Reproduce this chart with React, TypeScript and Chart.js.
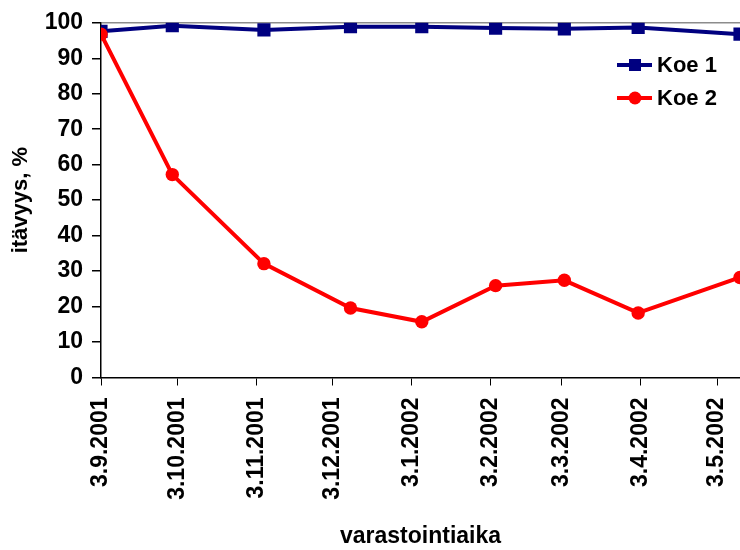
import React, { useEffect, useRef } from "react";
import { Chart, registerables } from "chart.js";

Chart.register(...registerables);

// Days since 3.9.2001
const tickDays = [0, 30, 61, 91, 122, 153, 181, 212, 242];
const tickLabels = [
  "3.9.2001",
  "3.10.2001",
  "3.11.2001",
  "3.12.2001",
  "3.1.2002",
  "3.2.2002",
  "3.3.2002",
  "3.4.2002",
  "3.5.2002",
];
const sampleDays = [0, 28, 64, 98, 126, 155, 182, 211, 251];
const koe1 = [97.6, 99.2, 98.0, 98.9, 98.9, 98.5, 98.3, 98.7, 96.8];
const koe2 = [96.8, 57.2, 32.1, 19.6, 15.7, 25.9, 27.4, 18.2, 28.2];
const seriesNames = ["Koe 1", "Koe 2"];
const xTitle = "varastointiaika";
const yTitle = "itävyys, %";

const FONT = "'Liberation Sans', Arial, Helvetica, sans-serif";

const legendPlugin = {
  id: "insideLegend",
  afterDraw(chart: any) {
    const ctx = chart.ctx;
    const ys = [65, 98];
    ctx.save();
    chart.data.datasets.forEach((ds: any, i: number) => {
      const y = ys[i];
      ctx.strokeStyle = ds.borderColor;
      ctx.lineWidth = 4;
      ctx.beginPath();
      ctx.moveTo(617, y);
      ctx.lineTo(652, y);
      ctx.stroke();
      ctx.fillStyle = ds.pointBackgroundColor;
      if (ds.pointStyle === "rect") {
        ctx.fillRect(629, y - 6, 12, 12);
      } else {
        ctx.beginPath();
        ctx.arc(635, y, 6.5, 0, Math.PI * 2);
        ctx.fill();
      }
      ctx.fillStyle = "#000";
      ctx.font = `bold 22px ${FONT}`;
      ctx.textBaseline = "middle";
      ctx.textAlign = "left";
      ctx.fillText(ds.label, 657, y + 1);
    });
    ctx.restore();
  },
};

export default function App() {
  const ref = useRef<HTMLCanvasElement>(null);
  useEffect(() => {
    if (!ref.current) return;
    const chart = new Chart(ref.current, {
      type: "line",
      data: {
        datasets: [
          {
            label: seriesNames[0],
            data: sampleDays.map((d, i) => ({ x: d, y: koe1[i] })),
            borderColor: "#000080",
            backgroundColor: "#000080",
            pointBackgroundColor: "#000080",
            pointBorderColor: "#000080",
            pointStyle: "rect",
            pointRadius: 9.3,
            pointBorderWidth: 0,
            borderWidth: 4,
            tension: 0,
            order: 1,
          },
          {
            label: seriesNames[1],
            data: sampleDays.map((d, i) => ({ x: d, y: koe2[i] })),
            borderColor: "#FF0000",
            backgroundColor: "#FF0000",
            pointBackgroundColor: "#FF0000",
            pointBorderColor: "#FF0000",
            pointStyle: "circle",
            pointRadius: 6.7,
            pointBorderWidth: 0,
            borderWidth: 4,
            tension: 0,
            order: 0,
          },
        ],
      },
      options: {
        animation: false,
        responsive: false,
        layout: { autoPadding: false, padding: { top: 22, left: 0, right: 0, bottom: 0 } },
        plugins: {
          legend: { display: false },
          tooltip: { enabled: false },
        },
        scales: {
          x: {
            type: "linear",
            min: 0,
            max: 251,
            afterBuildTicks: (scale: any) => {
              scale.ticks = tickDays.map((v) => ({ value: v }));
            },
            afterFit: (scale: any) => {
              scale.height = 172.5;
              scale.paddingLeft = 0;
              scale.paddingRight = 0;
            },
            ticks: {
              autoSkip: false,
              maxRotation: 90,
              minRotation: 90,
              padding: 12,
              color: "#000",
              font: { family: FONT, size: 23, weight: "bold" },
              callback: (value: any) => {
                const i = tickDays.indexOf(Number(value));
                return i >= 0 ? tickLabels[i] : "";
              },
            },
            grid: {
              drawOnChartArea: false,
              drawTicks: true,
              tickLength: 8,
              tickColor: "#000",
              tickWidth: 1,
            },
            border: { display: true, color: "#000", width: 1.5 },
            title: {
              display: true,
              text: xTitle,
              color: "#000",
              font: { family: FONT, size: 23, weight: "bold" },
              padding: { top: 0, bottom: 0 },
            },
          },
          y: {
            min: 0,
            max: 100,
            afterFit: (scale: any) => {
              scale.width = 101;
            },
            ticks: {
              stepSize: 10,
              padding: 9,
              color: "#000",
              font: { family: FONT, size: 23, weight: "bold" },
            },
            grid: {
              drawOnChartArea: true,
              drawTicks: true,
              tickLength: 9,
              tickColor: "#000",
              color: (c: any) =>
                c.tick && c.tick.value === 100 ? "#8c8c8c" : "rgba(0,0,0,0)",
              lineWidth: 1.5,
            },
            border: { display: true, color: "#000", width: 1.5 },
            title: {
              display: true,
              text: yTitle,
              color: "#000",
              font: { family: FONT, size: 22, weight: "bold" },
              padding: { top: 8, bottom: 0 },
            },
          },
        },
      },
      plugins: [legendPlugin],
    });
    return () => chart.destroy();
  }, []);
  return (
    <div style={{ position: "fixed", left: 0, top: 0, width: 740, height: 550, background: "#fff" }}>
      <canvas ref={ref} width={740} height={550} style={{ display: "block" }} />
    </div>
  );
}
